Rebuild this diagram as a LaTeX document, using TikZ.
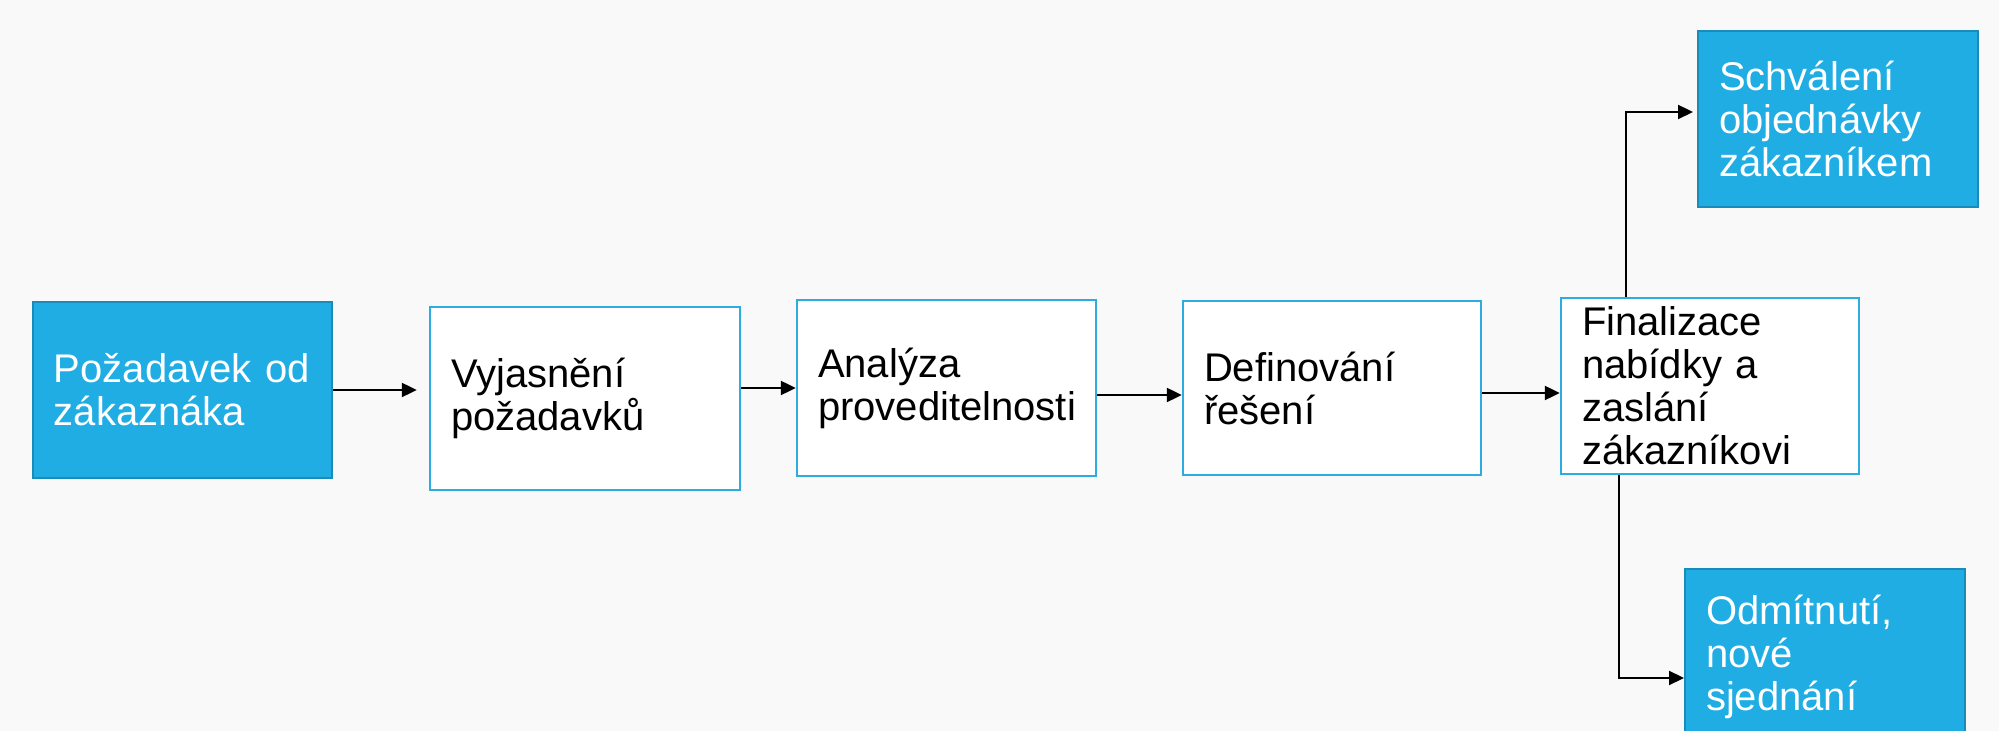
\documentclass[tikz,border=0pt]{standalone}
\usepackage{fontspec}
\setmainfont{Liberation Sans}
\usetikzlibrary{arrows.meta,calc}
\definecolor{bg}{RGB}{249,249,249}
\definecolor{boxblue}{RGB}{31,173,227}
\definecolor{blueedge}{RGB}{26,140,186}
\definecolor{lineblue}{RGB}{45,172,226}
\tikzset{
  box/.style={rectangle, inner xsep=10.5pt, inner ysep=0pt, align=left,
    font=\fontsize{20}{21.5}\selectfont},
  whitebox/.style={box, draw=lineblue, line width=1.2pt, fill=white, text=black},
  bluebox/.style={box, draw=blueedge, line width=1pt, fill=boxblue, text=white},
  arr/.style={-{Triangle[length=7.5pt,width=7pt]}, line width=1.1pt, black}
}
\begin{document}
\begin{tikzpicture}[x=0.5pt,y=-0.5pt]
\fill[bg] (0,0) rectangle (1999,731);
\useasboundingbox (0,0) rectangle (1999,731);

\node[bluebox, text width=128.5pt, minimum height=88pt] (b1) at (182.5,390) {Požadavek od\\zákaznáka};
\node[whitebox, text width=134pt, minimum height=91.5pt] (b2) at (585,398.5) {Vyjasnění\\požadavků};
\node[whitebox, text width=128.5pt, minimum height=88pt] (b3) at (946.5,388) {Analýza\\proveditelnosti};
\node[whitebox, text width=128pt, minimum height=87pt] (b4) at (1332,388) {Definování\\řešení};
\node[whitebox, text width=128pt, minimum height=88pt] (b5) at (1710,386) {Finalizace\\nabídky a\\zaslání\\zákazníkovi};
\node[bluebox, text width=119pt, minimum height=88pt] (b6) at (1838,119) {Schválení\\objednávky\\zákazníkem};
\node[bluebox, text width=119pt, minimum height=88pt] (b7) at (1825,657) {Odmítnutí,\\nové\\sjednání};

\draw[arr, shorten >=6pt] (b1.east) -- (b1.east -| b2.west);
\draw[arr] (b3.west -| b2.east) -- (b3.west);
\coordinate (p3) at ($(b3.east)+(0,7)$);
\draw[arr] (p3) -- (p3 -| b4.west);
\coordinate (p4) at ($(b4.east)+(0,5)$);
\draw[arr] (p4) -- (p4 -| b5.west);
\coordinate (u5) at ($(b5.north west)+(66,0)$);
\coordinate (u6) at ($(b6.west)+(0,-7)$);
\draw[arr, shorten >=2pt] (u5) |- (u6);
\coordinate (d5) at ($(b5.south west)+(59,0)$);
\coordinate (d7) at ($(b7.west)+(0,21)$);
\draw[arr] (d5) |- (d7);
\end{tikzpicture}
\end{document}
